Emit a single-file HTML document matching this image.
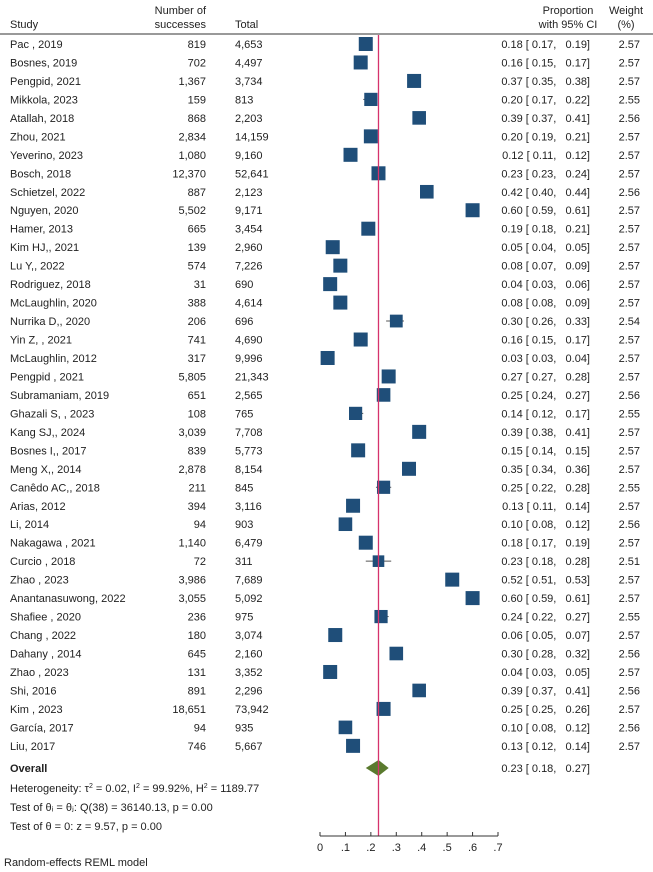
<!DOCTYPE html>
<html><head><meta charset="utf-8"><style>
body{margin:0;background:#fff;}
svg{display:block;font-family:"Liberation Sans",sans-serif;font-size:11px;fill:#222;}
</style></head><body>
<svg id="chart" width="653" height="872" viewBox="0 0 653 872">
<g>
<text x="10" y="28">Study</text>
<text x="206" y="14" text-anchor="end">Number of</text>
<text x="206" y="28" text-anchor="end">successes</text>
<text x="235" y="28">Total</text>
<text x="568" y="14" text-anchor="middle">Proportion</text>
<text x="568" y="28" text-anchor="middle">with 95% CI</text>
<text x="626" y="14" text-anchor="middle">Weight</text>
<text x="626" y="28" text-anchor="middle">(%)</text>
<line x1="0" y1="34" x2="653" y2="34" stroke="#333" stroke-width="1"/>
</g>
<g id="rows"></g>
<g id="axis"></g>
<g>
<text x="10" y="772" font-weight="bold">Overall</text>
<text x="10" y="792">Heterogeneity: τ<tspan dy="-4" font-size="7">2</tspan><tspan dy="4"> = 0.02, I</tspan><tspan dy="-4" font-size="7">2</tspan><tspan dy="4"> = 99.92%, H</tspan><tspan dy="-4" font-size="7">2</tspan><tspan dy="4"> = 1189.77</tspan></text>
<text x="10" y="811">Test of θᵢ = θⱼ: Q(38) = 36140.13, p = 0.00</text>
<text x="10" y="830">Test of θ = 0: z = 9.57, p = 0.00</text>
<text x="4" y="866">Random-effects REML model</text>
</g>
</svg>
<script>
const studies=["Pac , 2019","Bosnes, 2019","Pengpid, 2021","Mikkola, 2023","Atallah, 2018","Zhou, 2021","Yeverino, 2023","Bosch, 2018","Schietzel, 2022","Nguyen, 2020","Hamer, 2013","Kim HJ,, 2021","Lu Y,, 2022","Rodriguez, 2018","McLaughlin, 2020","Nurrika D,, 2020","Yin Z, , 2021","McLaughlin, 2012","Pengpid , 2021","Subramaniam, 2019","Ghazali S, , 2023","Kang SJ,, 2024","Bosnes I,, 2017","Meng X,, 2014","Canêdo AC,, 2018","Arias, 2012","Li, 2014","Nakagawa , 2021","Curcio , 2018","Zhao , 2023","Anantanasuwong, 2022","Shafiee , 2020","Chang , 2022","Dahany , 2014","Zhao , 2023","Shi, 2016","Kim , 2023","García, 2017","Liu, 2017"];
const successes=["819","702","1,367","159","868","2,834","1,080","12,370","887","5,502","665","139","574","31","388","206","741","317","5,805","651","108","3,039","839","2,878","211","394","94","1,140","72","3,986","3,055","236","180","645","131","891","18,651","94","746"];
const totals=["4,653","4,497","3,734","813","2,203","14,159","9,160","52,641","2,123","9,171","3,454","2,960","7,226","690","4,614","696","4,690","9,996","21,343","2,565","765","7,708","5,773","8,154","845","3,116","903","6,479","311","7,689","5,092","975","3,074","2,160","3,352","2,296","73,942","935","5,667"];
const est=[0.18,0.16,0.37,0.20,0.39,0.20,0.12,0.23,0.42,0.60,0.19,0.05,0.08,0.04,0.08,0.30,0.16,0.03,0.27,0.25,0.14,0.39,0.15,0.35,0.25,0.13,0.10,0.18,0.23,0.52,0.60,0.24,0.06,0.30,0.04,0.39,0.25,0.10,0.13];
const lo=[0.17,0.15,0.35,0.17,0.37,0.19,0.11,0.23,0.40,0.59,0.18,0.04,0.07,0.03,0.08,0.26,0.15,0.03,0.27,0.24,0.12,0.38,0.14,0.34,0.22,0.11,0.08,0.17,0.18,0.51,0.59,0.22,0.05,0.28,0.03,0.37,0.25,0.08,0.12];
const hi=[0.19,0.17,0.38,0.22,0.41,0.21,0.12,0.24,0.44,0.61,0.21,0.05,0.09,0.06,0.09,0.33,0.17,0.04,0.28,0.27,0.17,0.41,0.15,0.36,0.28,0.14,0.12,0.19,0.28,0.53,0.61,0.27,0.07,0.32,0.05,0.41,0.26,0.12,0.14];
const weights=[2.57,2.57,2.57,2.55,2.56,2.57,2.57,2.57,2.56,2.57,2.57,2.57,2.57,2.57,2.57,2.54,2.57,2.57,2.57,2.56,2.55,2.57,2.57,2.57,2.55,2.57,2.56,2.57,2.51,2.57,2.57,2.55,2.57,2.56,2.57,2.56,2.57,2.56,2.57];
const overall=[0.23,0.18,0.27];
const ticks=[0,0.1,0.2,0.3,0.4,0.5,0.6,0.7];
const tickLabels=["0",".1",".2",".3",".4",".5",".6",".7"];
const NS="http://www.w3.org/2000/svg";
const x=v=>320+v*254.3;
const y=i=>44+i*18.47;
function mk(t,a,p){const e=document.createElementNS(NS,t);for(const k in a)e.setAttribute(k,a[k]);p.appendChild(e);return e;}
const f=v=>v.toFixed(2);
const rows=document.getElementById('rows');
studies.forEach((s,i)=>{
  const g=mk('g',{},rows);
  
  
  const yy=y(i);
  let t=mk('text',{x:10,y:yy+4},g);t.textContent=s;
  t=mk('text',{x:206,y:yy+4,'text-anchor':'end'},g);t.textContent=successes[i];
  t=mk('text',{x:235,y:yy+4},g);t.textContent=totals[i];
  const l=mk('line',{x1:x(lo[i]),x2:x(hi[i]),y1:yy,y2:yy,stroke:'#555','stroke-width':1},g);
  
  
  const sz=14-(2.57-weights[i])*40;
  const r=mk('rect',{x:x(est[i])-sz/2,y:yy-sz/2,width:sz,height:sz,fill:'#1f4e79'},g);
  
  
  t=mk('text',{x:590,y:yy+4,'text-anchor':'end'},g);
  t.textContent=f(est[i])+' [ '+f(lo[i])+',   '+f(hi[i])+']';
  t.setAttribute('xml:space','preserve');t.style.whiteSpace='pre';
  t=mk('text',{x:640,y:yy+4,'text-anchor':'end'},g);t.textContent=f(weights[i]);
});
const oy=768;
const d=mk('polygon',{points:`${x(overall[1])},${oy} ${x(overall[0])},${oy-8} ${x(overall[2])},${oy} ${x(overall[0])},${oy+8}`,fill:'#5a7a2e'},rows);


let ot=mk('text',{x:590,y:oy+4,'text-anchor':'end'},rows);
ot.style.whiteSpace='pre';
ot.textContent=f(overall[0])+' [ '+f(overall[1])+',   '+f(overall[2])+']';
const rl=mk('line',{x1:x(overall[0]),x2:x(overall[0]),y1:35,y2:836,stroke:'#d6336c','stroke-width':1.3},rows);


const ax=document.getElementById('axis');
mk('line',{x1:x(0),x2:x(0.7),y1:836,y2:836,stroke:'#333'},ax);
ticks.forEach((v,i)=>{
  mk('line',{x1:x(v),x2:x(v),y1:836,y2:832,stroke:'#333'},ax);
  const t=mk('text',{x:x(v),y:851,'text-anchor':'middle'},ax);
  
  
  t.textContent=tickLabels[i];
});
</script>
</body></html>
